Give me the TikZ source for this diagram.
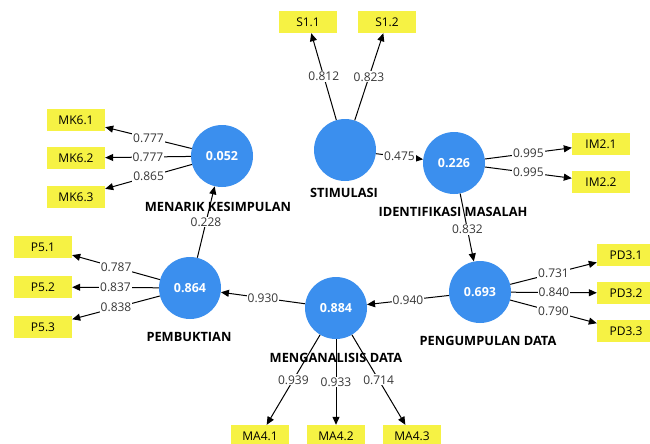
\documentclass[tikz,border=0pt]{standalone}
\usepackage{fontspec}
\setmainfont{Open Sans}
\usetikzlibrary{arrows.meta}
\definecolor{plsblue}{RGB}{59,143,238}
\definecolor{plsyellow}{RGB}{246,242,68}
\definecolor{numgray}{RGB}{55,55,55}
\tikzset{
  latent/.style={circle, fill=plsblue, minimum size=62pt, inner sep=0pt, text=white,
    font=\fontsize{12.5}{14}\selectfont\bfseries},
  indic/.style={rectangle, fill=plsyellow, minimum width=58pt, minimum height=22pt,
    inner sep=0pt, font=\fontsize{12}{14}\selectfont},
  lvlabel/.style={font=\fontsize{12.8}{15}\selectfont\bfseries, inner sep=0pt},
  conn/.style={draw=black, line width=1pt, -{Triangle[length=8pt,width=7pt]}},
  wt/.style={fill=white, inner sep=1pt, text=numgray, font=\fontsize{12}{14}\selectfont},
}
\begin{document}
\begin{tikzpicture}[x=1pt,y=-1pt]
\useasboundingbox (0,0) rectangle (650,444);
\fill[white] (0,0) rectangle (650,444);

% latent variables
\node[latent] (st) at (345,150) {};
\node[latent] (im) at (454,163) {0.226};
\node[latent] (mk) at (222,156) {0.052};
\node[latent] (pb) at (190,288) {0.864};
\node[latent] (ma) at (336,308) {0.884};
\node[latent] (pd) at (480,292) {0.693};

% latent labels
\node[lvlabel] (lst) at (344,193) {STIMULASI};
\node[lvlabel] (lmk) at (218,207) {MENARIK KESIMPULAN};
\node[lvlabel] (lim) at (453,212) {IDENTIFIKASI MASALAH};
\node[lvlabel] (lpd) at (488,341) {PENGUMPULAN DATA};
\node[lvlabel] (lpb) at (189,337) {PEMBUKTIAN};
\node[lvlabel] (lma) at (336,358) {MENGANALISIS DATA};

% indicators
\node[indic] (s11) at (308,22) {S1.1};
\node[indic] (s12) at (387,22) {S1.2};
\node[indic] (mk61) at (76,120) {MK6.1};
\node[indic] (mk62) at (76,158) {MK6.2};
\node[indic] (mk63) at (76,197) {MK6.3};
\node[indic] (im21) at (601,144) {IM2.1};
\node[indic] (im22) at (601,182) {IM2.2};
\node[indic] (pd31) at (626,255) {PD3.1};
\node[indic] (pd32) at (626,293) {PD3.2};
\node[indic] (pd33) at (626,331) {PD3.3};
\node[indic] (p51) at (43,247) {P5.1};
\node[indic] (p52) at (43,287) {P5.2};
\node[indic] (p53) at (43,327) {P5.3};
\node[indic] (ma41) at (260,436) {MA4.1};
\node[indic] (ma42) at (336,436) {MA4.2};
\node[indic] (ma43) at (412,436) {MA4.3};

% outer loadings
\draw[conn] (st) -- node[wt]{0.812} (s11);
\draw[conn] (st) -- node[wt]{0.823} (s12);
\draw[conn] (mk) -- node[wt]{0.777} (mk61);
\draw[conn] (mk) -- node[wt]{0.777} (mk62);
\draw[conn] (mk) -- node[wt]{0.865} (mk63);
\draw[conn] (im) -- node[wt]{0.995} (im21);
\draw[conn] (im) -- node[wt]{0.995} (im22);
\draw[conn] (pd) -- node[wt]{0.731} (pd31);
\draw[conn] (pd) -- node[wt]{0.840} (pd32);
\draw[conn] (pd) -- node[wt]{0.790} (pd33);
\draw[conn] (pb) -- node[wt]{0.787} (p51);
\draw[conn] (pb) -- node[wt]{0.837} (p52);
\draw[conn] (pb) -- node[wt]{0.838} (p53);
\draw[conn] (ma) -- node[wt]{0.939} (ma41);
\draw[conn] (ma) -- node[wt]{0.933} (ma42);
\draw[conn] (ma) -- node[wt]{0.714} (ma43);

% path coefficients
\draw[conn] (st) -- node[wt]{0.475} (im);
\draw[conn] (im) -- node[wt, pos=0.53]{0.832} (pd);
\draw[conn] (pd) -- node[wt]{0.940} (ma);
\draw[conn] (ma) -- node[wt]{0.930} (pb);
\draw[conn] (pb) -- node[wt]{0.228} (mk);
\end{tikzpicture}
\end{document}
